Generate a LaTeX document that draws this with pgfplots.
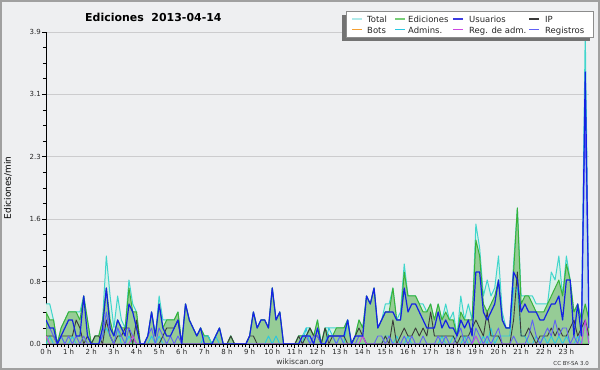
\documentclass[border=0pt]{standalone}
\usepackage{pgfplots}
\pgfplotsset{compat=1.18}
\usepackage{pgfplotstable}
\usepackage{fontspec}
\setmainfont{DejaVu Sans}

\definecolor{bgc}{RGB}{238,239,241}
\definecolor{framec}{RGB}{160,160,160}
\definecolor{gridc}{RGB}{204,204,206}
\definecolor{totline}{RGB}{64,214,204}
\definecolor{totfill}{RGB}{216,240,232}
\definecolor{totleg}{RGB}{176,234,234}
\definecolor{ediline}{RGB}{56,178,56}
\definecolor{edifill}{RGB}{150,204,150}
\definecolor{edileg}{RGB}{120,206,120}
\definecolor{usrc}{RGB}{20,34,228}
\definecolor{usrleg}{RGB}{60,60,225}
\definecolor{ipc}{RGB}{58,58,58}
\definecolor{botc}{RGB}{245,160,50}
\definecolor{admc}{RGB}{40,200,226}
\definecolor{regadmc}{RGB}{205,70,225}
\definecolor{regc}{RGB}{96,96,245}
\definecolor{regfill}{RGB}{150,180,240}

\pgfplotstableread{
i T E U P A R M
0 0.5 0.4 0.3 0.1 0.0 0.2 0.1
1 0.5 0.3 0.2 0.1 0.1 0.2 0.0
2 0.3 0.3 0.2 0.1 0.0 0.1 0.0
3 0.0 0.0 0.0 0.0 0.0 0.0 0.0
4 0.2 0.2 0.1 0.1 0.1 0.1 0.0
5 0.3 0.3 0.2 0.1 0.0 0.0 0.0
6 0.4 0.4 0.3 0.1 0.0 0.1 0.0
7 0.4 0.4 0.3 0.1 0.1 0.0 0.0
8 0.4 0.4 0.1 0.3 0.0 0.1 0.0
9 0.4 0.3 0.1 0.2 0.0 0.0 0.0
10 0.6 0.6 0.6 0.0 0.0 0.1 0.0
11 0.3 0.3 0.1 0.1 0.0 0.0 0.0
12 0.0 0.0 0.0 0.0 0.0 0.0 0.0
13 0.1 0.1 0.0 0.1 0.0 0.0 0.0
14 0.1 0.1 0.0 0.1 0.0 0.0 0.0
15 0.3 0.3 0.2 0.0 0.1 0.1 0.0
16 1.1 0.7 0.7 0.3 0.2 0.4 0.0
17 0.6 0.3 0.2 0.1 0.1 0.1 0.0
18 0.2 0.1 0.1 0.0 0.0 0.0 0.0
19 0.6 0.3 0.3 0.1 0.2 0.2 0.0
20 0.3 0.2 0.2 0.1 0.0 0.1 0.0
21 0.2 0.2 0.1 0.2 0.0 0.0 0.0
22 0.8 0.7 0.5 0.2 0.1 0.2 0.0
23 0.5 0.4 0.4 0.0 0.0 0.1 0.1
24 0.4 0.4 0.2 0.3 0.0 0.0 0.0
25 0.0 0.0 0.0 0.0 0.0 0.0 0.0
26 0.0 0.0 0.0 0.0 0.0 0.0 0.0
27 0.1 0.1 0.1 0.0 0.0 0.1 0.0
28 0.4 0.4 0.4 0.0 0.1 0.2 0.0
29 0.1 0.1 0.1 0.0 0.0 0.0 0.0
30 0.6 0.5 0.5 0.0 0.1 0.2 0.0
31 0.3 0.2 0.2 0.1 0.0 0.1 0.0
32 0.3 0.3 0.1 0.2 0.0 0.0 0.0
33 0.3 0.3 0.1 0.2 0.0 0.1 0.0
34 0.3 0.3 0.2 0.2 0.0 0.0 0.0
35 0.4 0.4 0.3 0.3 0.0 0.1 0.0
36 0.0 0.0 0.0 0.0 0.0 0.0 0.0
37 0.5 0.5 0.5 0.0 0.0 0.0 0.0
38 0.3 0.3 0.3 0.0 0.0 0.0 0.0
39 0.2 0.2 0.2 0.0 0.0 0.0 0.0
40 0.1 0.1 0.1 0.0 0.0 0.0 0.0
41 0.2 0.2 0.2 0.0 0.0 0.0 0.0
42 0.1 0.1 0.0 0.0 0.1 0.0 0.0
43 0.1 0.1 0.0 0.0 0.1 0.0 0.0
44 0.0 0.0 0.0 0.0 0.0 0.0 0.0
45 0.1 0.1 0.1 0.0 0.1 0.0 0.0
46 0.2 0.2 0.2 0.0 0.0 0.0 0.0
47 0.0 0.0 0.0 0.0 0.0 0.0 0.0
48 0.0 0.0 0.0 0.0 0.0 0.0 0.0
49 0.1 0.1 0.0 0.1 0.0 0.0 0.0
50 0.0 0.0 0.0 0.0 0.0 0.0 0.0
51 0.0 0.0 0.0 0.0 0.0 0.0 0.0
52 0.0 0.0 0.0 0.0 0.0 0.0 0.0
53 0.0 0.0 0.0 0.0 0.0 0.0 0.0
54 0.1 0.1 0.1 0.1 0.0 0.0 0.0
55 0.4 0.4 0.4 0.1 0.0 0.0 0.0
56 0.2 0.2 0.2 0.0 0.0 0.0 0.0
57 0.3 0.3 0.3 0.0 0.0 0.0 0.0
58 0.3 0.3 0.3 0.0 0.0 0.0 0.0
59 0.2 0.2 0.2 0.0 0.1 0.0 0.0
60 0.7 0.7 0.7 0.0 0.0 0.0 0.0
61 0.3 0.3 0.3 0.0 0.1 0.0 0.0
62 0.4 0.4 0.4 0.0 0.0 0.0 0.0
63 0.0 0.0 0.0 0.0 0.0 0.0 0.0
64 0.0 0.0 0.0 0.0 0.0 0.0 0.0
65 0.0 0.0 0.0 0.0 0.0 0.0 0.0
66 0.0 0.0 0.0 0.0 0.0 0.0 0.0
67 0.1 0.1 0.0 0.1 0.0 0.0 0.0
68 0.1 0.1 0.1 0.0 0.0 0.1 0.0
69 0.2 0.1 0.1 0.1 0.2 0.1 0.0
70 0.2 0.2 0.1 0.2 0.0 0.0 0.0
71 0.1 0.1 0.0 0.1 0.0 0.1 0.0
72 0.3 0.3 0.2 0.1 0.0 0.1 0.0
73 0.0 0.0 0.0 0.0 0.0 0.0 0.0
74 0.2 0.2 0.0 0.2 0.0 0.0 0.0
75 0.2 0.1 0.1 0.0 0.2 0.1 0.0
76 0.2 0.1 0.1 0.1 0.1 0.1 0.0
77 0.2 0.2 0.1 0.1 0.0 0.0 0.0
78 0.2 0.2 0.1 0.1 0.1 0.1 0.0
79 0.2 0.2 0.1 0.1 0.0 0.0 0.0
80 0.3 0.3 0.3 0.0 0.3 0.0 0.0
81 0.0 0.0 0.0 0.0 0.0 0.0 0.0
82 0.1 0.1 0.1 0.1 0.0 0.0 0.0
83 0.3 0.3 0.1 0.2 0.0 0.1 0.0
84 0.2 0.2 0.1 0.1 0.0 0.1 0.1
85 0.6 0.6 0.6 0.0 0.0 0.0 0.0
86 0.5 0.5 0.5 0.0 0.0 0.0 0.0
87 0.7 0.7 0.7 0.0 0.0 0.0 0.0
88 0.2 0.2 0.2 0.0 0.0 0.1 0.0
89 0.3 0.3 0.3 0.0 0.0 0.1 0.0
90 0.5 0.4 0.4 0.1 0.1 0.0 0.0
91 0.5 0.4 0.4 0.0 0.1 0.1 0.0
92 0.7 0.7 0.4 0.3 0.0 0.0 0.0
93 0.3 0.3 0.3 0.0 0.1 0.0 0.0
94 0.4 0.3 0.3 0.1 0.0 0.0 0.0
95 1.0 0.9 0.7 0.2 0.0 0.1 0.0
96 0.6 0.6 0.4 0.1 0.1 0.0 0.0
97 0.6 0.6 0.5 0.1 0.0 0.1 0.0
98 0.6 0.6 0.5 0.2 0.0 0.0 0.0
99 0.5 0.5 0.4 0.1 0.0 0.0 0.0
100 0.5 0.4 0.3 0.2 0.0 0.1 0.0
101 0.4 0.4 0.2 0.1 0.0 0.0 0.0
102 0.5 0.5 0.2 0.4 0.0 0.0 0.0
103 0.3 0.3 0.2 0.1 0.0 0.0 0.0
104 0.5 0.5 0.4 0.1 0.0 0.1 0.0
105 0.3 0.3 0.2 0.1 0.1 0.0 0.0
106 0.5 0.4 0.3 0.1 0.0 0.1 0.0
107 0.3 0.3 0.2 0.1 0.0 0.0 0.0
108 0.4 0.3 0.2 0.1 0.1 0.0 0.0
109 0.1 0.1 0.1 0.0 0.0 0.1 0.0
110 0.6 0.4 0.3 0.1 0.0 0.2 0.0
111 0.3 0.3 0.2 0.1 0.1 0.0 0.0
112 0.5 0.3 0.3 0.1 0.0 0.1 0.0
113 0.3 0.3 0.1 0.2 0.0 0.0 0.0
114 1.5 1.3 0.9 0.3 0.1 0.2 0.1
115 1.2 1.1 0.9 0.2 0.0 0.1 0.0
116 0.6 0.5 0.4 0.1 0.1 0.0 0.0
117 0.8 0.4 0.3 0.4 0.0 0.1 0.0
118 0.6 0.5 0.4 0.1 0.2 0.0 0.0
119 0.7 0.6 0.5 0.1 0.0 0.1 0.0
120 1.1 0.8 0.8 0.1 0.1 0.2 0.0
121 0.4 0.3 0.3 0.0 0.1 0.0 0.0
122 0.2 0.2 0.2 0.0 0.1 0.0 0.0
123 0.2 0.2 0.2 0.0 0.1 0.0 0.0
124 1.0 0.9 0.9 0.3 0.7 0.1 0.0
125 1.7 1.7 0.8 0.9 0.7 0.0 0.0
126 0.6 0.5 0.4 0.1 0.1 0.0 0.0
127 0.6 0.6 0.5 0.1 0.1 0.0 0.0
128 0.6 0.6 0.4 0.2 0.0 0.1 0.0
129 0.6 0.5 0.4 0.1 0.0 0.3 0.0
130 0.5 0.4 0.4 0.0 0.1 0.1 0.0
131 0.5 0.4 0.3 0.1 0.0 0.0 0.0
132 0.5 0.4 0.3 0.1 0.1 0.1 0.0
133 0.5 0.5 0.4 0.1 0.0 0.2 0.0
134 0.9 0.6 0.5 0.2 0.1 0.1 0.0
135 0.8 0.7 0.5 0.1 0.0 0.3 0.0
136 1.1 0.8 0.6 0.2 0.1 0.1 0.0
137 0.6 0.6 0.3 0.1 0.0 0.2 0.0
138 1.1 1.0 0.8 0.1 0.1 0.2 0.0
139 0.8 0.8 0.8 0.2 0.0 0.0 0.0
140 0.4 0.4 0.1 0.3 0.0 0.1 0.0
141 0.5 0.5 0.5 0.1 0.1 0.0 0.0
142 0.3 0.3 0.1 0.2 0.0 0.2 0.0
143 3.9 0.5 3.4 0.3 0.3 2.8 0.3
144 0.3 0.3 0.2 0.1 0.0 0.2 0.0
}\data

\begin{document}
\begin{tikzpicture}
\fill[bgc] (0,0) rectangle (600bp,370bp);
\draw[framec, line width=2bp] (1bp,1bp) rectangle (599bp,369bp);
\begin{axis}[
  at={(46bp,26bp)}, anchor=south west,
  scale only axis, width=543bp, height=312bp,
  xmin=0, xmax=144, ymin=0, ymax=3.9,
  axis x line*=bottom, axis y line*=left,
  axis line style={black, line width=1bp},
  xtick={0,6,...,138},
  xticklabels={0 h,1 h,2 h,3 h,4 h,5 h,6 h,7 h,8 h,9 h,10 h,11 h,12 h,13 h,14 h,15 h,16 h,17 h,18 h,19 h,20 h,21 h,22 h,23 h},
  minor x tick num=5,
  ytick={0,0.78,1.56,2.34,3.12,3.9},
  yticklabels={0.0,0.8,1.6,2.3,3.1,3.9},
  minor y tick num=3,
  tick align=outside,
  major tick length=4bp, minor tick length=3bp,
  every tick/.style={black, line width=0.9bp},
  ymajorgrids,
  grid style={gridc, line width=0.9bp},
  tick label style={font=\fontsize{7}{8}\selectfont, text=black!85},
  xticklabel style={inner sep=1bp},
  yticklabel style={inner sep=1bp},
  ylabel={Ediciones/min},
  every axis y label/.style={at={(rel axis cs:-0.07,0.5)}, rotate=90, anchor=center, font=\fontsize{9}{10}\selectfont},
  clip=true,
]
\addplot[draw=none, fill=totfill] table[x=i,y=T]{\data} \closedcycle;
\addplot[draw=none, fill=regfill, fill opacity=0.35] table[x=i,y=R]{\data} \closedcycle;
\addplot[draw=totline, line width=1bp, line join=round] table[x=i,y=T]{\data};
\addplot[draw=ediline, line width=1bp, fill=edifill, line join=round] table[x=i,y=E]{\data} \closedcycle;
\addplot[draw=admc, line width=0.9bp, line join=round] table[x=i,y=A]{\data};
\addplot[draw=ipc, line width=0.9bp, line join=round] table[x=i,y=P]{\data};
\addplot[draw=regc, line width=0.9bp, line join=round] table[x=i,y=R]{\data};
\addplot[draw=regadmc, line width=0.9bp, line join=round] table[x=i,y=M]{\data};
\addplot[draw=usrc, line width=1.2bp, line join=round] table[x=i,y=U]{\data};
\end{axis}
% legend
\fill[black!55] (341.7bp,329.3bp) rectangle (590bp,354.8bp);
\draw[black!45, fill=white, line width=0.6bp] (346.7bp,333bp) rectangle (593bp,358.3bp);
\begin{scope}[line width=1.2bp]
\draw[totleg] (352bp,351bp) -- (362bp,351bp);
\draw[edileg] (395bp,351bp) -- (405bp,351bp);
\draw[usrleg] (453bp,351bp) -- (463bp,351bp);
\draw[ipc] (529bp,351bp) -- (539bp,351bp);
\draw[botc] (352bp,340.7bp) -- (362bp,340.7bp);
\draw[admc] (395bp,340.7bp) -- (405bp,340.7bp);
\draw[regadmc] (453bp,340.7bp) -- (463bp,340.7bp);
\draw[regc] (529bp,340.7bp) -- (539bp,340.7bp);
\end{scope}
\begin{scope}[every node/.style={anchor=base west, inner sep=0pt, font=\fontsize{8.5}{9}\selectfont, text=black!85}]
\node at (367bp,347.3bp) {Total};
\node at (408bp,347.3bp) {Ediciones};
\node at (469bp,347.3bp) {Usuarios};
\node at (545bp,347.3bp) {IP};
\node at (367bp,336.7bp) {Bots};
\node at (408bp,336.7bp) {Admins.};
\node at (469bp,336.7bp) {Reg. de adm.};
\node at (545bp,336.7bp) {Registros};
\end{scope}
% title and credits
\node[anchor=base west, inner sep=0pt, font=\bfseries\fontsize{11}{12}\selectfont] at (85bp,348.7bp) {Ediciones\ \ 2013-04-14};
\node[anchor=base, inner sep=0pt, font=\fontsize{7.6}{8}\selectfont, text=black!80] at (300bp,6bp) {wikiscan.org};
\node[anchor=base east, inner sep=0pt, font=\fontsize{5.5}{6}\selectfont, text=black!80] at (589bp,5bp) {CC BY-SA 3.0};
\end{tikzpicture}
\end{document}
